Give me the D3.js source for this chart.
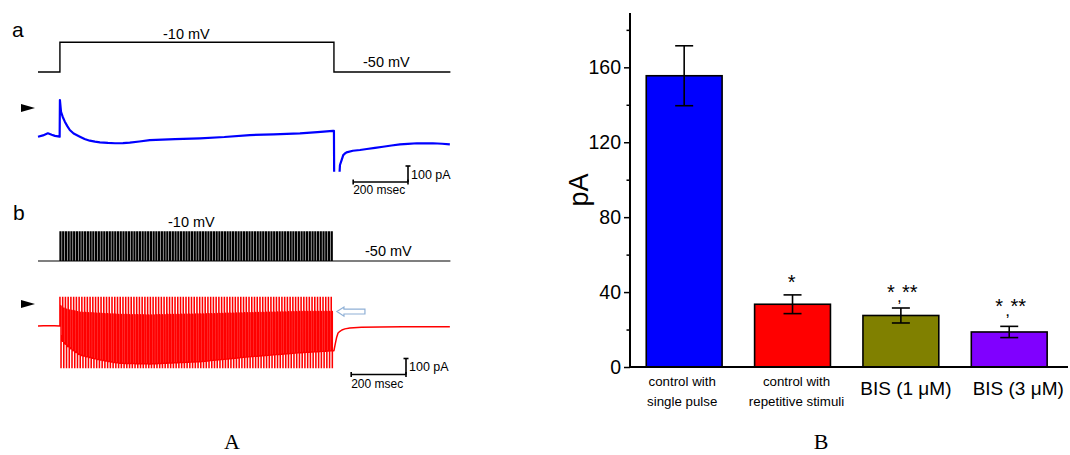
<!DOCTYPE html>
<html>
<head>
<meta charset="utf-8">
<script src="https://cdn.jsdelivr.net/npm/d3@7"></script>
<style>
  body { margin: 0; background: #fff; }
  svg { display: block; font-family: "Liberation Sans", Arial, sans-serif; }
</style>
</head>
<body>
<svg id="fig" width="1070" height="455"></svg>
<script>
// ---------- Panel A data (time in ms from step onset, current in pA from holding level) ----------
// a: single 1-s depolarizing step from -50 mV to -10 mV
const stepTimes = [-80, 0, 0, 1000, 1000, 1425];
const stepMV    = [-50, -50, -10, -10, -50, -50];

const traceATimes = [-80, -62, -44, -30, -18, -1, 0, 4, 10, 18, 27, 36, 50, 73, 90, 109, 128, 146, 175, 201, 230, 255, 290, 328, 420, 511, 600, 693, 780, 876, 940, 996, 1000,
                     1001, 1018, 1022, 1028, 1034, 1040, 1046, 1069, 1095, 1120, 1150, 1179, 1210, 1241, 1270, 1303, 1330, 1361, 1395, 1423];
const traceAPA    = [0, 8, 21, 12, 5, 0, 229, 156, 125, 94, 66, 42, 20, 0, -14, -25, -31, -35, -39, -41, -40, -37, -30, -21, -15, -10, -2, 10, 15, 21, 28, 36, 36,
                     -300, -300, -177, -146, -115, -105, -98, -88, -83, -77, -70, -63, -55, -48, -45, -41, -42, -41, -44, -48];

// b: train of brief pulses to -10 mV during the same 1-s window
const trainPulseCount = 100;
const trainPeriodMs = 10;
const trainPulseWidthMs = 4;

// current levels read along the train (upper: during pulses, lower: between pulses)
const envTimes   = [0, 6, 18, 36, 73, 146, 219, 328, 511, 693, 876, 1000];
const envUpperPA = [131, 120, 108, 100, 86, 79, 72, 69, 75, 83, 90, 90];
const envLowerPA = [0, -88, -110, -138, -181, -212, -233, -237, -223, -192, -167, -154];

const traceBPreTimes  = [-80, -60, -40, -20, 0];
const traceBPrePA     = [0, 2, 1, 2, 0];
const traceBPostTimes = [1000, 1005, 1010, 1015, 1022, 1029, 1040, 1058, 1100, 1168, 1250, 1330, 1423];
const traceBPostPA    = [-154, -110, -70, -44, -33, -25, -18, -12, -8, -6, -5, -5, -4];

const scaleBarMs = 200;
const scaleBarPA = 100;

// ---------- Panel B data ----------
const categories   = [["control with", "single pulse"], ["control with", "repetitive stimuli"], ["BIS (1 \u03BCM)"], ["BIS (3 \u03BCM)"]];
const meanPA       = [155.5, 33.5, 27.5, 18.7];
const semPA        = [16, 5, 4, 3];
const barColors    = ["#0000ff", "#ff0000", "#808000", "#8000ff"];
const significance = ["", "*", "*,**", "*,**"];
const yTicks       = [0, 40, 80, 120, 160];
const yMinorTicks  = [20, 60, 100, 140, 180];

const svg = d3.select("#fig");

// ================= Panel A =================
const xT = d3.scaleLinear().domain([-80, 1425]).range([38, 450.4]);
const vA = d3.scaleLinear().domain([-50, -10]).range([72, 42.3]);
const iA = d3.scaleLinear().domain([0, 100]).range([136.7, 120.7]);
const vB = d3.scaleLinear().domain([-50, -10]).range([261, 231.7]);
const iB = d3.scaleLinear().domain([0, 100]).range([326, 310]);

const defs = svg.append("defs");
defs.append("clipPath").attr("id", "clipA")
  .append("rect").attr("x", 0).attr("y", 90).attr("width", 460).attr("height", 171.7 - 90);
defs.append("clipPath").attr("id", "clipB")
  .append("rect").attr("x", 0).attr("y", 296.7).attr("width", 460).attr("height", 368.3 - 296.7);

const line = d3.line();

// a: voltage protocol
svg.append("path")
  .attr("d", line(stepTimes.map((t, k) => [xT(t), vA(stepMV[k])])))
  .attr("fill", "none").attr("stroke", "#000").attr("stroke-width", 1.4);

// a: current response
svg.append("path")
  .attr("clip-path", "url(#clipA)")
  .attr("d", line(traceATimes.map((t, k) => [xT(t), iA(traceAPA[k])])))
  .attr("fill", "none").attr("stroke", "#0000ff").attr("stroke-width", 2.2)
  .attr("stroke-linejoin", "round");

// b: voltage pulse train
const trainV = [[xT(-80), vB(-50)]];
for (let p = 0; p < trainPulseCount; p++) {
  const t0 = p * trainPeriodMs;
  trainV.push([xT(t0), vB(-50)], [xT(t0), vB(-10)], [xT(t0 + trainPulseWidthMs), vB(-10)], [xT(t0 + trainPulseWidthMs), vB(-50)]);
}
trainV.push([xT(1000), vB(-50)], [xT(1425), vB(-50)]);
svg.append("path")
  .attr("d", line(trainV))
  .attr("fill", "none").attr("stroke", "#000").attr("stroke-width", 1.1);

// b: current response to the train
const upper = d3.scaleLinear().domain(envTimes).range(envUpperPA);
const lower = d3.scaleLinear().domain(envTimes).range(envLowerPA);
const trainI = traceBPreTimes.map((t, k) => [xT(t), iB(traceBPrePA[k])]);
for (let p = 0; p < trainPulseCount; p++) {
  const t0 = p * trainPeriodMs, t1 = t0 + trainPulseWidthMs, t2 = t0 + trainPeriodMs;
  trainI.push([xT(t0), iB(400)], [xT(t0 + 0.3), iB(upper(t0))], [xT(t1), iB(upper(t1))],
              [xT(t1), iB(-400)], [xT(t1 + 0.3), iB(lower(t1))], [xT(t2), iB(lower(t2))]);
}
traceBPostTimes.forEach((t, k) => trainI.push([xT(t), iB(traceBPostPA[k])]));
svg.append("path")
  .attr("clip-path", "url(#clipB)")
  .attr("d", line(trainI))
  .attr("fill", "none").attr("stroke", "#ff0000").attr("stroke-width", 1.5)
  .attr("stroke-linejoin", "round");

// hollow arrow pointing at the end of the train
{
  const tipX = xT(1000) + 3, tipY = iB(envUpperPA[envUpperPA.length - 1]);
  const pts = [[0, 0], [7, -4.6], [7, -2.4], [28, -2.4], [28, 2.4], [7, 2.4], [7, 4.6]]
    .map(([dx, dy]) => [tipX + dx, tipY + dy]);
  svg.append("path").attr("d", line(pts) + "Z")
    .attr("fill", "#fff").attr("stroke", "#8fb0d6").attr("stroke-width", 1.2);
}

// arrowheads marking the zero-current level
[108, 304].forEach(yy => {
  svg.append("path").attr("d", line([[21, yy - 4], [35, yy], [21, yy + 4]]) + "Z").attr("fill", "#000");
});

// scale bars
function scaleBar(x, y, lblY1, lblY2, yScale) {
  const w = xT(scaleBarMs) - xT(0);
  const h = yScale(0) - yScale(scaleBarPA);
  const g = svg.append("g").attr("stroke", "#000").attr("stroke-width", 1.6);
  g.append("line").attr("x1", x - w).attr("x2", x).attr("y1", y).attr("y2", y);
  g.append("line").attr("x1", x).attr("x2", x).attr("y1", y).attr("y2", y - h);
  g.append("line").attr("x1", x - 2.5).attr("x2", x + 2.5).attr("y1", y - h).attr("y2", y - h);
  g.append("line").attr("x1", x - w).attr("x2", x - w).attr("y1", y - 2.5).attr("y2", y + 2.5);
  g.append("line").attr("x1", x).attr("x2", x).attr("y1", y - 2.5).attr("y2", y + 2.5);
  svg.append("text").attr("x", x + 3).attr("y", lblY1).attr("font-size", 12.5).text("100 pA");
  svg.append("text").attr("x", x - w).attr("y", lblY2).attr("font-size", 12).text("200 msec");
}
scaleBar(408, 182, 178.5, 193.5, iA);
scaleBar(406, 374.5, 371, 388, iB);

// protocol labels
const labelsA = [
  ["a", 12, 37, 21], ["b", 13, 220, 21],
  ["-10 mV", 163, 39, 14.5], ["-50 mV", 363, 67, 14.5],
  ["-10 mV", 168, 227, 14.5], ["-50 mV", 365, 256, 14.5]
];
labelsA.forEach(([t, x, y, fs]) => svg.append("text").attr("x", x).attr("y", y).attr("font-size", fs).text(t));

// ================= Panel B =================
const x = d3.scaleBand().domain(d3.range(meanPA.length)).range([630, 1063.4]).paddingInner(0.3).paddingOuter(0.15);
const y = d3.scaleLinear().domain([0, 189]).range([367, 13]);

// bars
svg.append("g").selectAll("rect").data(meanPA).join("rect")
  .attr("x", (d, k) => x(k)).attr("width", x.bandwidth())
  .attr("y", d => y(d)).attr("height", d => y(0) - y(d))
  .attr("fill", (d, k) => barColors[k])
  .attr("stroke", "#000").attr("stroke-width", 1.6);

// error bars
const eb = svg.append("g").attr("stroke", "#000").attr("stroke-width", 1.6);
meanPA.forEach((m, k) => {
  const cx = x(k) + x.bandwidth() / 2, cap = 9;
  eb.append("line").attr("x1", cx).attr("x2", cx).attr("y1", y(m + semPA[k])).attr("y2", y(m - semPA[k]));
  eb.append("line").attr("x1", cx - cap).attr("x2", cx + cap).attr("y1", y(m + semPA[k])).attr("y2", y(m + semPA[k]));
  eb.append("line").attr("x1", cx - cap).attr("x2", cx + cap).attr("y1", y(m - semPA[k])).attr("y2", y(m - semPA[k]));
});

// significance markers
significance.forEach((s, k) => {
  if (!s) return;
  const cx = x(k) + x.bandwidth() / 2;
  const top = y(meanPA[k] + semPA[k]);
  if (s === "*") {
    svg.append("text").attr("x", cx - 1).attr("y", top - 6).attr("text-anchor", "middle").attr("font-size", 20).text("*");
  } else {
    const lift = k === 2 ? 9 : 13;
    svg.append("text").attr("x", cx - 10).attr("y", top - lift).attr("text-anchor", "middle").attr("font-size", 20).text("*");
    svg.append("text").attr("x", cx + 9).attr("y", top - lift).attr("text-anchor", "middle").attr("font-size", 20).text("**");
    svg.append("text").attr("x", cx - 1.5).attr("y", top - lift + 3).attr("text-anchor", "middle").attr("font-size", 17).text(",");
  }
});

// y axis: major and minor ticks
const yAxis = svg.append("g").attr("transform", "translate(630,0)")
  .call(d3.axisLeft(y).tickValues(yTicks).tickSize(6).tickPadding(3).tickFormat(d3.format("d")));
yAxis.select(".domain").attr("stroke-width", 2).attr("d", `M0,${y(0)}V${y(189)}`);
yAxis.selectAll(".tick line").attr("stroke-width", 1.5);
yAxis.selectAll(".tick text").attr("font-size", 19.5).attr("font-family", "Liberation Sans, Arial, sans-serif").attr("fill", "#000");
const yMinor = svg.append("g").attr("transform", "translate(630,0)")
  .call(d3.axisLeft(y).tickValues(yMinorTicks).tickSize(3.5).tickFormat(""));
yMinor.select(".domain").remove();
yMinor.selectAll(".tick line").attr("stroke-width", 1.5);

// x axis baseline
svg.append("line").attr("x1", 629).attr("x2", 1068).attr("y1", y(0)).attr("y2", y(0))
  .attr("stroke", "#000").attr("stroke-width", 2);

// axis title
svg.append("text").attr("transform", "translate(588,190) rotate(-90)")
  .attr("text-anchor", "middle").attr("font-size", 27).text("pA");

// category labels
const labelShift = [-2, 4, 5, 9];
categories.forEach((lines, k) => {
  const cx = x(k) + x.bandwidth() / 2 + labelShift[k];
  if (lines.length === 2) {
    lines.forEach((t, j) => svg.append("text").attr("x", cx).attr("y", 385.5 + j * 20.5)
      .attr("text-anchor", "middle").attr("font-size", 13.3).text(t));
  } else {
    svg.append("text").attr("x", cx).attr("y", 395).attr("text-anchor", "middle").attr("font-size", 19).text(lines[0]);
  }
});

// panel letters
svg.append("text").attr("x", 232).attr("y", 449).attr("text-anchor", "middle")
  .attr("font-family", "Liberation Serif, Times New Roman, serif").attr("font-size", 22).text("A");
svg.append("text").attr("x", 821).attr("y", 449).attr("text-anchor", "middle")
  .attr("font-family", "Liberation Serif, Times New Roman, serif").attr("font-size", 22).text("B");
</script>
</body>
</html>
